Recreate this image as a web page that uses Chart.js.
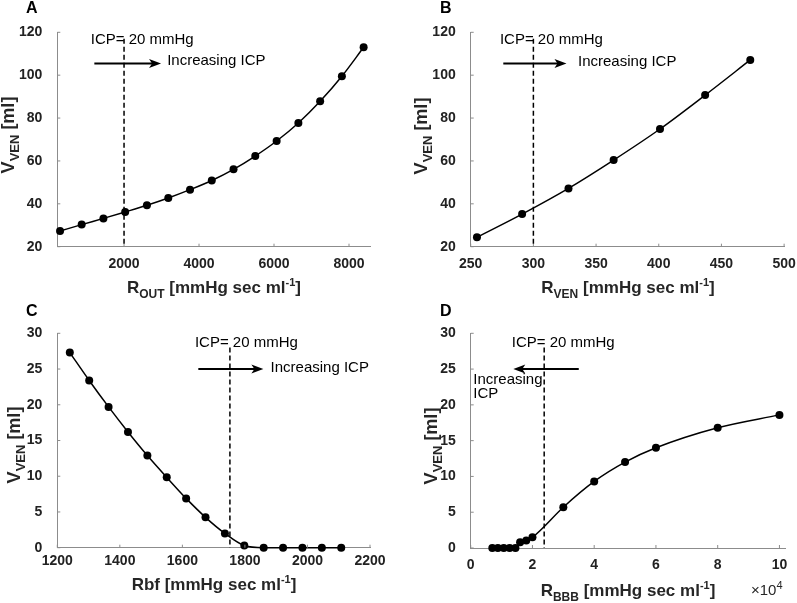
<!DOCTYPE html>
<html lang="en">
<head>
<meta charset="UTF-8">
<script src="https://cdn.jsdelivr.net/npm/chart.js@4.4.1/dist/chart.umd.min.js"></script>
<title>VVEN vs resistances</title>
<style>
  body { margin: 0; background: #fff; }
  #wrap { position: relative; width: 797px; height: 603px; overflow: hidden; font-family: "Liberation Sans", Arial, sans-serif; }
  #wrap canvas { position: absolute; left: 0; top: 0; }
  .lbl { position: absolute; white-space: nowrap; font-weight: bold; color: #262626; font-size: 17px; line-height: 17px; }
  .sub { font-size: 12px; position: relative; top: 5px; }
  .sup { font-size: 11px; position: relative; top: -7px; }
  .letter { position: absolute; font-weight: bold; font-size: 16px; line-height: 16px; color: #000; }
  .ytl { transform: translate(-50%, -50%) rotate(-90deg); font-size: 18px; line-height: 18px; }
  .ytl .sub { font-size: 13px; }
  .xtl { transform: translateX(-50%); }
</style>
</head>
<body>
<div id="wrap">
  <canvas id="cA" width="797" height="603"></canvas>
  <canvas id="cB" width="797" height="603"></canvas>
  <canvas id="cC" width="797" height="603"></canvas>
  <canvas id="cD" width="797" height="603"></canvas>

  <div class="letter" style="left:26px;top:0px">A</div>
  <div class="letter" style="left:440px;top:0px">B</div>
  <div class="letter" style="left:26px;top:303px">C</div>
  <div class="letter" style="left:440px;top:303px">D</div>

  <div class="lbl ytl" style="left:9px;top:135px">V<span class="sub">VEN</span> [ml]</div>
  <div class="lbl ytl" style="left:422px;top:136px">V<span class="sub">VEN</span> [ml]</div>
  <div class="lbl ytl" style="left:15px;top:445px">V<span class="sub">VEN</span> [ml]</div>
  <div class="lbl ytl" style="left:432px;top:446px">V<span class="sub">VEN</span> [ml]</div>

  <div class="lbl xtl" style="left:214px;top:279px">R<span class="sub">OUT</span> [mmHg sec ml<span class="sup">-1</span>]</div>
  <div class="lbl xtl" style="left:628px;top:279px">R<span class="sub">VEN</span> [mmHg sec ml<span class="sup">-1</span>]</div>
  <div class="lbl xtl" style="left:214px;top:576px">Rbf [mmHg sec ml<span class="sup">-1</span>]</div>
  <div class="lbl xtl" style="left:628px;top:582px">R<span class="sub">BBB</span> [mmHg sec ml<span class="sup">-1</span>]</div>
  <div class="lbl" style="left:751px;top:582px;font-weight:normal;font-size:15px;line-height:15px">&times;10<span class="sup" style="font-size:11px;top:-6px">4</span></div>
</div>

<script>
  // ---- data ----
  const routX = [293, 870, 1450, 2030, 2610, 3180, 3760, 4340, 4920, 5500, 6070, 6650, 7230, 7810, 8390];
  const routV = [27.3, 30.3, 33.2, 36.2, 39.3, 42.7, 46.6, 50.9, 56.1, 62.3, 69.3, 77.7, 87.8, 99.5, 113.0];

  const rvenX = [255, 291, 328, 364, 401, 437, 473];
  const rvenV = [24.4, 35.2, 47.2, 60.4, 74.9, 90.7, 107.1];

  const rbfX = [1240, 1302, 1364, 1426, 1488, 1550, 1612, 1674, 1736, 1798, 1860, 1922, 1984, 2046, 2108];
  const rbfV = [27.3, 23.4, 19.7, 16.2, 12.9, 9.85, 6.9, 4.25, 2.0, 0.3, 0, 0, 0, 0, 0];

  const rbbbX = [7000, 8800, 10700, 12600, 14500, 16000, 18000, 20000, 30000, 40000, 50000, 60000, 80000, 100000];
  const rbbbV = [0, 0, 0, 0, 0, 0.8, 1.05, 1.5, 5.7, 9.3, 12, 14, 16.8, 18.6];

  // tick labels
  const ticksXA = [2000, 4000, 6000, 8000];
  const ticksXB = [250, 300, 350, 400, 450, 500];
  const ticksXC = [1200, 1400, 1600, 1800, 2000, 2200];
  const ticksXD = [0, 20000, 40000, 60000, 80000, 100000];
  const ticksYAB = [20, 40, 60, 80, 100, 120];
  const ticksYCD = [0, 5, 10, 15, 20, 25, 30];

  const AXIS = '#8c8c8c';
  const TXT = '#222';
  const W = 797, H = 603;

  // dashed ICP line, arrow and notes, in data units
  const icpPlugin = {
    id: 'icp',
    afterDraw(chart, args, o) {
      const ctx = chart.ctx, ca = chart.chartArea;
      const xs = chart.scales.x, ys = chart.scales.y;
      ctx.save();
      // inward ticks
      ctx.strokeStyle = AXIS;
      ctx.lineWidth = 1;
      ctx.beginPath();
      xs.ticks.forEach(t => {
        const p = xs.getPixelForValue(t.value);
        ctx.moveTo(p, ca.bottom); ctx.lineTo(p, ca.bottom - 3);
      });
      ys.ticks.forEach(t => {
        const p = ys.getPixelForValue(t.value);
        ctx.moveTo(ca.left, p); ctx.lineTo(ca.left + 3, p);
      });
      ctx.stroke();

      ctx.strokeStyle = '#000';
      ctx.fillStyle = '#000';
      ctx.lineWidth = 1.5;
      ctx.setLineDash([5, 3]);
      const lx = xs.getPixelForValue(o.lineX);
      ctx.beginPath();
      ctx.moveTo(lx, ys.getPixelForValue(o.lineTop));
      ctx.lineTo(lx, ca.bottom);
      ctx.stroke();
      ctx.setLineDash([]);

      const x1 = xs.getPixelForValue(o.arrow[0]);
      const x2 = xs.getPixelForValue(o.arrow[1]);
      const ay = ys.getPixelForValue(o.arrow[2]);
      const d = Math.sign(x2 - x1);
      ctx.lineWidth = 2;
      ctx.beginPath();
      ctx.moveTo(x1, ay); ctx.lineTo(x2 - d * 6, ay);
      ctx.stroke();
      ctx.beginPath();
      ctx.moveTo(x2, ay);
      ctx.lineTo(x2 - d * 12, ay - 4.5);
      ctx.lineTo(x2 - d * 9, ay);
      ctx.lineTo(x2 - d * 12, ay + 4.5);
      ctx.closePath();
      ctx.fill();

      ctx.font = '15px "Liberation Sans", Arial, sans-serif';
      ctx.textBaseline = 'middle';
      ctx.textAlign = 'left';
      o.texts.forEach(t => ctx.fillText(t[0], xs.getPixelForValue(t[1]), ys.getPixelForValue(t[2])));
      ctx.restore();
    }
  };

  function panel(id, area, xr, yr, xv, yv, xt, yt, fmt, xpad, icp) {
    const yw = 50, xh = 40;
    const tickFont = { family: '"Liberation Sans", Arial, sans-serif', size: 14, weight: 'bold' };
    new Chart(document.getElementById(id), {
      type: 'line',
      data: {
        datasets: [{
          data: xv.map((x, i) => ({ x: x, y: yv[i] })),
          borderColor: '#000',
          backgroundColor: '#000',
          borderWidth: 1.5,
          pointRadius: 4,
          pointBorderWidth: 0,
          cubicInterpolationMode: 'monotone',
          clip: false
        }]
      },
      options: {
        responsive: false,
        animation: false,
        events: [],
        layout: { padding: { left: area[0] - yw, top: area[2], right: W - area[1], bottom: H - area[3] - xh } },
        plugins: { legend: { display: false }, tooltip: { enabled: false }, icp: icp },
        scales: {
          x: {
            type: 'linear', min: xr[0], max: xr[1],
            grid: { display: false },
            border: { color: AXIS, width: 1 },
            ticks: { font: tickFont, color: TXT, padding: xpad, maxRotation: 0, autoSkip: false, callback: fmt },
            afterBuildTicks: s => { s.ticks = xt.map(v => ({ value: v })); },
            afterFit: s => { s.height = xh; }
          },
          y: {
            type: 'linear', min: yr[0], max: yr[1],
            grid: { display: false },
            border: { color: AXIS, width: 1 },
            ticks: { font: tickFont, color: TXT, padding: 7, autoSkip: false },
            afterBuildTicks: s => { s.ticks = yt.map(v => ({ value: v })); },
            afterFit: s => { s.width = yw; }
          }
        }
      },
      plugins: [icpPlugin]
    });
  }

  const plain = v => String(v);

  panel('cA', [57.3, 370, 32.3, 246.7], [220, 8560], [20, 120], routX, routV, ticksXA, ticksYAB, plain, 1.2, {
    lineX: 2000, lineTop: 117,
    arrow: [1208, 2987, 105.5],
    texts: [['ICP= 20 mmHg', 1112, 116.4], ['Increasing ICP', 3150, 106.6]]
  });

  panel('cB', [470.7, 785, 32.3, 246.7], [250, 500], [20, 120], rvenX, rvenV, ticksXB, ticksYAB, plain, 1.2, {
    lineX: 300, lineTop: 117,
    arrow: [276, 326.4, 105.5],
    texts: [['ICP= 20 mmHg', 273.3, 116.4], ['Increasing ICP', 335.6, 106.4]]
  });

  panel('cC', [57.3, 370, 333.3, 547.7], [1200, 2200], [0, 30], rbfX, rbfV, ticksXC, ticksYCD, plain, -2.5, {
    lineX: 1752, lineTop: 28,
    arrow: [1651, 1859, 25],
    texts: [['ICP= 20 mmHg', 1640, 28.6], ['Increasing ICP', 1882, 25.1]]
  });

  panel('cD', [470.7, 785, 333.3, 548], [0, 101800], [0, 30], rbbbX, rbbbV, ticksXD, ticksYCD, v => String(v / 10000), 1.1, {
    lineX: 23800, lineTop: 28,
    arrow: [35000, 13800, 25],
    texts: [['ICP= 20 mmHg', 13300, 28.6], ['Increasing', 850, 23.5], ['ICP', 850, 21.5]]
  });
</script>
</body>
</html>
